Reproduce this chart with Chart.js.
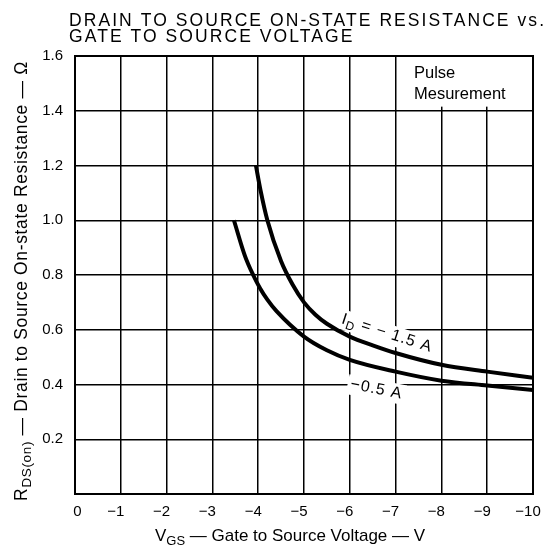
<!DOCTYPE html>
<html><head><meta charset="utf-8">
<script src="https://cdn.jsdelivr.net/npm/chart.js@4.4.1/dist/chart.umd.min.js"></script>
<style>html,body{margin:0;padding:0;background:#fff}#wrap{width:557px;height:549px}</style>
</head><body><div id="wrap"><canvas id="c" width="557" height="549"></canvas></div>
<script>
// ---- data ----
const titleLines = ['DRAIN TO SOURCE ON-STATE RESISTANCE vs.', 'GATE TO SOURCE VOLTAGE'];
const xTicks = [0, -1, -2, -3, -4, -5, -6, -7, -8, -9, -10];
const xTickLabels = ['0', '\u22121', '\u22122', '\u22123', '\u22124', '\u22125', '\u22126', '\u22127', '\u22128', '\u22129', '\u221210'];
const yTicks = [0, 0.2, 0.4, 0.6, 0.8, 1.0, 1.2, 1.4, 1.6];
const yTickLabels = ['', '0.2', '0.4', '0.6', '0.8', '1.0', '1.2', '1.4', '1.6'];
const vgsId15 = [-3.95, -4.05, -4.2, -4.5, -4.75, -5.0, -5.25, -5.5, -6.0, -6.5, -7.0, -8.0, -9.0, -10.0];
const rdsId15 = [1.20, 1.11, 1.00, 0.85, 0.765, 0.70, 0.655, 0.622, 0.575, 0.543, 0.515, 0.472, 0.447, 0.425];
const vgsId05 = [-3.47, -3.71, -3.89, -4.04, -4.2, -4.4, -5.0, -5.5, -6.0, -7.0, -8.0, -9.0, -10.0];
const rdsId05 = [1.0, 0.87, 0.80, 0.752, 0.71, 0.668, 0.575, 0.525, 0.49, 0.447, 0.414, 0.396, 0.38];
const seriesNames = ['ID = \u22121.5 A', '\u22120.5 A'];
const noteLines = ['Pulse', 'Mesurement'];
const xTitle = ['V', 'GS', ' \u2014 Gate to Source Voltage \u2014 V'];
const yTitle = ['R', 'DS(on)', ' \u2014 Drain to Source On-state Resistance \u2014 \u03A9'];

const FONT = '"Liberation Sans", Arial, Helvetica, sans-serif';
const toPts = (xs, ys) => xs.map((x, i) => ({x, y: ys[i]}));

function drawSubText(ctx, parts, size, subSize, subDrop) {
  let x = 0;
  ctx.font = size + 'px ' + FONT; ctx.fillText(parts[0], x, 0); x += ctx.measureText(parts[0]).width;
  ctx.font = subSize + 'px ' + FONT; ctx.fillText(parts[1], x, subDrop); x += ctx.measureText(parts[1]).width;
  ctx.font = size + 'px ' + FONT; ctx.fillText(parts[2], x, 0); x += ctx.measureText(parts[2]).width;
  return x;
}
function measureSub(ctx, parts, size, subSize) {
  ctx.font = size + 'px ' + FONT; let w = ctx.measureText(parts[0]).width + ctx.measureText(parts[2]).width;
  ctx.font = subSize + 'px ' + FONT; w += ctx.measureText(parts[1]).width;
  return w;
}

const labelSpecs = [
  {x: -5.8, y: 0.625, rot: 18, size: 16, sub: 12, ls: 1, parts: ['I', 'D', ' = \u2212 1.5 A']},
  {x: -6.0, y: 0.385, rot: 11, size: 16, sub: 12, ls: 1, parts: ['', '', '\u22120.5 A']}
];

const decor = {
  id: 'decor',
  beforeDatasetsDraw(chart) {
    const {ctx, scales: {x, y}} = chart;
    ctx.save();
    ctx.fillStyle = '#fff';
    const bx0 = x.getPixelForValue(-7.6), bx1 = x.getPixelForValue(-10) - 1;
    const by0 = y.getPixelForValue(1.6) + 1, by1 = y.getPixelForValue(1.415);
    ctx.fillRect(bx0, by0, bx1 - bx0, by1 - by0);
    labelSpecs.forEach(s => {
      ctx.letterSpacing = s.ls + 'px';
      const w = measureSub(ctx, s.parts, s.size, s.sub);
      ctx.save();
      ctx.translate(x.getPixelForValue(s.x), y.getPixelForValue(s.y));
      ctx.rotate(s.rot * Math.PI / 180);
      ctx.fillRect(-3, -14, w + 6, 20);
      ctx.restore();
    });
    ctx.letterSpacing = '0px';
    ctx.restore();
  },
  afterDatasetsDraw(chart) {
    const {ctx, chartArea: a, scales: {x, y}} = chart;
    ctx.save();
    ctx.strokeStyle = '#000'; ctx.lineWidth = 2;
    ctx.strokeRect(a.left, a.top, a.right - a.left, a.bottom - a.top);
    ctx.fillStyle = '#000'; ctx.textBaseline = 'alphabetic'; ctx.textAlign = 'left';
    labelSpecs.forEach(s => {
      ctx.save();
      ctx.letterSpacing = s.ls + 'px';
      ctx.translate(x.getPixelForValue(s.x), y.getPixelForValue(s.y));
      ctx.rotate(s.rot * Math.PI / 180);
      drawSubText(ctx, s.parts, s.size, s.sub, 4);
      ctx.restore();
    });
    ctx.letterSpacing = '0px';
    ctx.font = '16.5px ' + FONT;
    ctx.fillText(noteLines[0], 414, 78);
    ctx.fillText(noteLines[1], 414, 99);
    ctx.restore();
  },
  afterDraw(chart) {
    const {ctx} = chart;
    ctx.save();
    ctx.fillStyle = '#000'; ctx.textBaseline = 'alphabetic'; ctx.textAlign = 'left';
    ctx.font = '17.5px ' + FONT;
    ctx.letterSpacing = '0px';
    const w0 = ctx.measureText(titleLines[0]).width;
    const ls = Math.max(0, (475 - w0) / (titleLines[0].length - 1));
    ctx.letterSpacing = ls.toFixed(2) + 'px';
    ctx.fillText(titleLines[0], 69, 26);
    ctx.fillText(titleLines[1], 69, 42);
    ctx.letterSpacing = '0px';
    // x axis title
    const xw = measureSub(ctx, xTitle, 17, 13);
    ctx.save();
    ctx.translate(290 - xw / 2, 541);
    drawSubText(ctx, xTitle, 17, 13, 4);
    ctx.restore();
    // y axis title, fitted to reference length
    const yw0 = measureSub(ctx, yTitle, 17.5, 13.5);
    const nChars = yTitle.join('').length;
    const yls = (440 - yw0) / nChars;
    ctx.letterSpacing = yls.toFixed(2) + 'px';
    const yw = measureSub(ctx, yTitle, 17.5, 13.5);
    ctx.save();
    ctx.translate(27, 281 + yw / 2);
    ctx.rotate(-Math.PI / 2);
    drawSubText(ctx, yTitle, 17.5, 13.5, 4);
    ctx.restore();
    ctx.letterSpacing = '0px';
    ctx.restore();
  }
};

new Chart(document.getElementById('c'), {
  type: 'scatter',
  data: {
    datasets: [
      {label: seriesNames[0], data: toPts(vgsId15, rdsId15)},
      {label: seriesNames[1], data: toPts(vgsId05, rdsId05)}
    ].map(d => Object.assign(d, {
      showLine: true, borderColor: '#000', borderWidth: 4, pointRadius: 0,
      cubicInterpolationMode: 'monotone', fill: false, borderCapStyle: 'butt'
    }))
  },
  options: {
    responsive: false, animation: false, devicePixelRatio: 1,
    layout: {padding: {left: 0, right: 24, top: 56, bottom: 0}},
    plugins: {legend: {display: false}, title: {display: false}, tooltip: {enabled: false}},
    scales: {
      x: {
        type: 'linear', min: -10, max: 0, reverse: true,
        afterFit: s => { s.height = 55; },
        afterBuildTicks: s => { s.ticks = xTicks.map(v => ({value: v})); },
        grid: {color: '#000', lineWidth: 1.5, drawTicks: false},
        border: {color: '#000', width: 2},
        ticks: {
          color: '#000', font: {family: FONT, size: 15}, padding: 9, maxRotation: 0, autoSkip: false,
          labelOffset: -5,
          callback: v => { const i = xTicks.indexOf(v); return i === 0 ? '\u2002\u2002' + xTickLabels[i] : xTickLabels[i]; }
        }
      },
      y: {
        type: 'linear', min: 0, max: 1.6,
        afterFit: s => { s.width = 75; },
        afterBuildTicks: s => { s.ticks = yTicks.map(v => ({value: v})); },
        grid: {color: '#000', lineWidth: 1.5, drawTicks: false},
        border: {color: '#000', width: 2},
        ticks: {
          color: '#000', font: {family: FONT, size: 15}, padding: 12,
          callback: v => { const i = yTicks.findIndex(t => Math.abs(t - v) < 1e-6); return i < 0 ? '' : yTickLabels[i]; }
        }
      }
    }
  },
  plugins: [decor]
});
</script>
</body></html>
